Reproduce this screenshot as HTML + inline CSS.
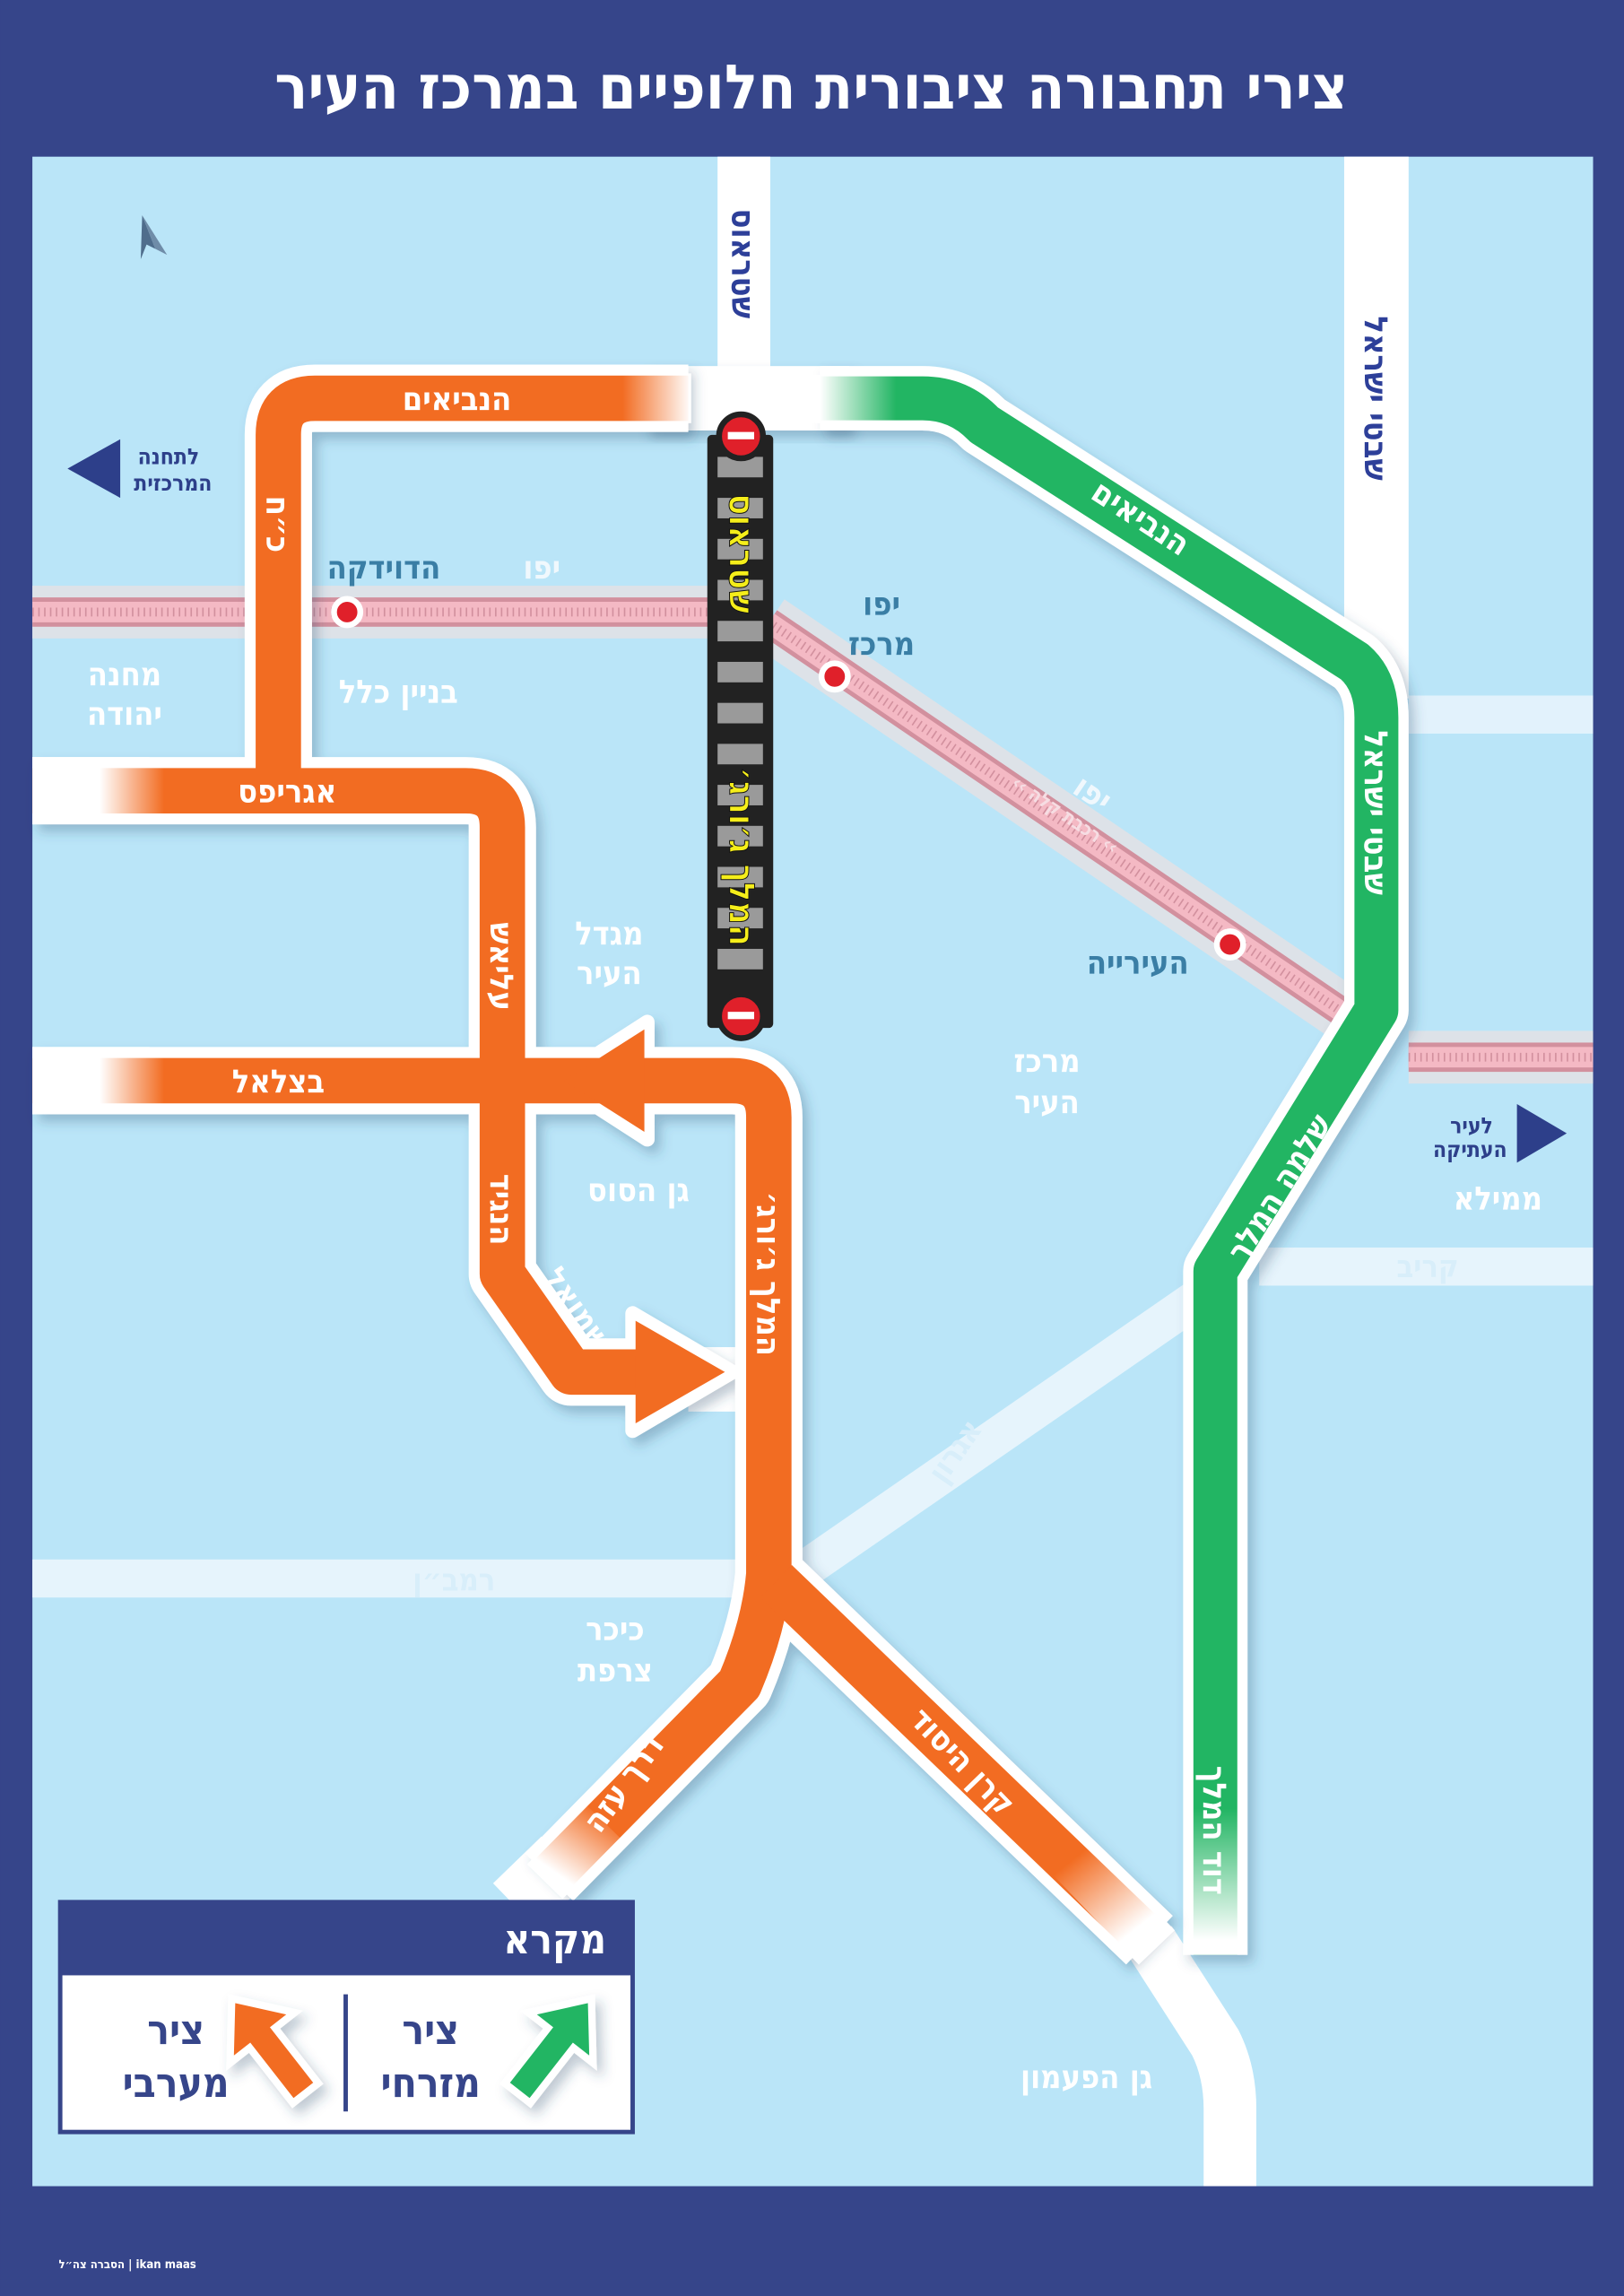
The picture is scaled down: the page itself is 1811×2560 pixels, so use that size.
<!DOCTYPE html>
<html><head><meta charset="utf-8"><style>
html,body{margin:0;padding:0;background:#36458a;}
svg{display:block}
text{font-family:"DejaVu Sans Condensed","Liberation Sans","DejaVu Sans",sans-serif;font-weight:bold;}
</style></head><body>
<svg width="1811" height="2560" viewBox="0 0 1109 1568" xmlns="http://www.w3.org/2000/svg">
<defs>
<filter id="sh" x="-10%" y="-10%" width="130%" height="130%"><feDropShadow dx="4" dy="5" stdDeviation="4" flood-color="#2a4f6e" flood-opacity="0.3"/></filter>
<linearGradient id="fTop" gradientUnits="userSpaceOnUse" x1="425" y1="0" x2="472" y2="0"><stop offset="0" stop-color="#fff" stop-opacity="0"/><stop offset="1" stop-color="#fff"/></linearGradient>
<linearGradient id="fGrTop" gradientUnits="userSpaceOnUse" x1="612" y1="0" x2="560" y2="0"><stop offset="0" stop-color="#fff" stop-opacity="0"/><stop offset="1" stop-color="#fff"/></linearGradient>
<linearGradient id="fLeft" gradientUnits="userSpaceOnUse" x1="112" y1="0" x2="68" y2="0"><stop offset="0" stop-color="#fff" stop-opacity="0"/><stop offset="1" stop-color="#fff"/></linearGradient>
<linearGradient id="fAza" gradientUnits="userSpaceOnUse" x1="408" y1="1235" x2="378" y2="1278"><stop offset="0" stop-color="#fff" stop-opacity="0"/><stop offset="1" stop-color="#fff"/></linearGradient>
<linearGradient id="fKeren" gradientUnits="userSpaceOnUse" x1="735" y1="1268" x2="775" y2="1318"><stop offset="0" stop-color="#fff" stop-opacity="0"/><stop offset="1" stop-color="#fff"/></linearGradient>
<linearGradient id="fGrBot" gradientUnits="userSpaceOnUse" x1="0" y1="1235" x2="0" y2="1325"><stop offset="0" stop-color="#fff" stop-opacity="0"/><stop offset="1" stop-color="#fff"/></linearGradient>
</defs>

<rect width="1109" height="1568" fill="#36458a"/>
<text x="554" y="74" font-size="42" fill="#fff" text-anchor="middle">צירי תחבורה ציבורית חלופיים במרכז העיר</text>
<rect x="22" y="107" width="1066" height="1386" fill="#bae5f8"/>

<!-- faint roads -->
<rect x="962" y="475" width="126" height="26" fill="#e2f2fc"/>
<rect x="860" y="852" width="228" height="26" fill="#e6f4fc"/>
<rect x="22" y="1065" width="490" height="26" fill="#e6f4fc"/>
<line x1="545" y1="1075" x2="830" y2="878" stroke="#e6f4fc" stroke-width="26"/>

<!-- rail -->
<g>
<rect x="22" y="400" width="470" height="36" fill="#dde2e8"/>
<rect x="22" y="408" width="470" height="20" fill="#d2909e"/>
<rect x="22" y="411" width="470" height="14" fill="#f4b9c4"/>
<line x1="525" y1="425" x2="925" y2="697" stroke="#dde2e8" stroke-width="38"/>
<line x1="525" y1="425" x2="925" y2="697" stroke="#d2909e" stroke-width="20"/>
<line x1="525" y1="425" x2="925" y2="697" stroke="#f4b9c4" stroke-width="14"/>
<rect x="962" y="704" width="126" height="36" fill="#dde2e8"/>
<rect x="962" y="712" width="126" height="20" fill="#d2909e"/>
<rect x="962" y="715" width="126" height="14" fill="#f4b9c4"/>
<line x1="22" y1="418" x2="490" y2="418" stroke="#d2909e" stroke-width="6" stroke-dasharray="1 3"/>
<line x1="962" y1="722" x2="1088" y2="722" stroke="#d2909e" stroke-width="6" stroke-dasharray="1 3"/>
<line x1="525" y1="425" x2="925" y2="697" stroke="#d2909e" stroke-width="6" stroke-dasharray="1 3"/>
</g>

<!-- white roads -->
<rect x="490" y="107" width="36" height="185" fill="#fff"/>
<rect x="918" y="107" width="44" height="370" fill="#fff"/>
<rect x="22" y="517" width="80" height="46" fill="#fff"/>
<rect x="22" y="715" width="80" height="46" fill="#fff"/>
<rect x="470" y="920" width="50" height="44" fill="#fff"/>
<path d="M785 1325 L830 1395 Q840 1415 840 1440 L840 1493" stroke="#fff" stroke-width="36" fill="none"/>
<line x1="385" y1="1270" x2="352" y2="1302" stroke="#fff" stroke-width="44"/>
<rect x="440" y="250" width="140" height="44" fill="#fff" filter="url(#sh)"/>

<!-- green route -->
<g filter="url(#sh)">
<path d="M560 272 L630 272 Q655 272 672 290 L925 452 Q940 465 940 490 L940 690 L830 868 L830 1335" stroke="#fff" stroke-width="44" fill="none" stroke-linejoin="round"/>
<path d="M560 272 L630 272 Q655 272 672 290 L925 452 Q940 465 940 490 L940 690 L830 868 L830 1335" stroke="#22b564" stroke-width="30" fill="none" stroke-linejoin="round"/>
</g>
<rect x="555" y="256" width="58" height="33" fill="url(#fGrTop)"/>
<rect x="814" y="1235" width="33" height="100" fill="url(#fGrBot)"/>

<!-- orange route -->
<g filter="url(#sh)">
<path d="M470 272 L215 272 Q190 272 190 297 L190 540" stroke="#fff" stroke-width="46" fill="none" stroke-linejoin="round"/>
<path d="M22 540 L318 540 Q343 540 343 565 L343 870 L390 937 L440 937" stroke="#fff" stroke-width="46" fill="none" stroke-linejoin="round"/>
<path d="M22 738 L420 738" stroke="#fff" stroke-width="46" fill="none"/>
<path d="M430 738 L500 738 Q525 738 525 763 L525 1075 Q522 1110 505 1150 L375 1282" stroke="#fff" stroke-width="46" fill="none" stroke-linejoin="round"/>
<path d="M530 1080 L785 1325" stroke="#fff" stroke-width="46" fill="none"/>
<polygon points="380,738 442,698 442,778" fill="#fff" stroke="#fff" stroke-width="10" stroke-linejoin="round"/>
<polygon points="500,937 432,897 432,977" fill="#fff" stroke="#fff" stroke-width="10" stroke-linejoin="round"/>

<path d="M470 272 L215 272 Q190 272 190 297 L190 540" stroke="#f26c22" stroke-width="31" fill="none" stroke-linejoin="round"/>
<path d="M22 540 L318 540 Q343 540 343 565 L343 870 L390 937 L440 937" stroke="#f26c22" stroke-width="31" fill="none" stroke-linejoin="round"/>
<path d="M22 738 L420 738" stroke="#f26c22" stroke-width="31" fill="none"/>
<path d="M430 738 L500 738 Q525 738 525 763 L525 1075 Q522 1110 505 1150 L375 1282" stroke="#f26c22" stroke-width="31" fill="none" stroke-linejoin="round"/>
<path d="M530 1080 L785 1325" stroke="#f26c22" stroke-width="31" fill="none"/>
<polygon points="385,738 440,703 440,773" fill="#f26c22"/>
<polygon points="495,937 434,902 434,972" fill="#f26c22"/>
</g>
<rect x="425" y="255" width="47" height="34" fill="url(#fTop)"/>
<rect x="22" y="524" width="92" height="32" fill="url(#fLeft)"/>
<rect x="22" y="722" width="92" height="32" fill="url(#fLeft)"/>
<line x1="412" y1="1244" x2="372" y2="1285" stroke="url(#fAza)" stroke-width="34"/>
<line x1="725" y1="1262" x2="790" y2="1330" stroke="url(#fKeren)" stroke-width="34"/>

<!-- black bar (closed street) -->
<rect x="483" y="297" width="45" height="405" fill="#222" rx="3"/>
<g fill="#9a9a9a">
<rect x="490" y="312" width="31" height="14"/><rect x="490" y="340" width="31" height="14"/><rect x="490" y="368" width="31" height="14"/><rect x="490" y="396" width="31" height="14"/><rect x="490" y="424" width="31" height="14"/><rect x="490" y="452" width="31" height="14"/><rect x="490" y="480" width="31" height="14"/><rect x="490" y="508" width="31" height="14"/><rect x="490" y="536" width="31" height="14"/><rect x="490" y="564" width="31" height="14"/><rect x="490" y="592" width="31" height="14"/><rect x="490" y="620" width="31" height="14"/><rect x="490" y="648" width="31" height="14"/>
</g>
<g stroke="#222" stroke-width="4">
<circle cx="506" cy="298" r="15" fill="#e0202a"/><circle cx="506" cy="694" r="15" fill="#e0202a"/>
</g>
<rect x="497" y="295" width="18" height="5" fill="#fff"/><rect x="497" y="691" width="18" height="5" fill="#fff"/>
<g font-size="24" fill="#f5ee1a" stroke="#111" stroke-width="0.6" text-anchor="middle">
<text transform="translate(498,378) rotate(90)">שטראוס</text>
<text transform="translate(498,585) rotate(90)">המלך ג׳ורג׳</text>
</g>

<!-- stations -->
<g stroke="#fff" stroke-width="4" fill="#e0202a">
<circle cx="237" cy="418" r="9"/><circle cx="570" cy="462" r="9"/><circle cx="840" cy="645" r="9"/>
</g>

<!-- navy road labels -->
<g font-size="22" fill="#2d3f99" text-anchor="middle">
<text transform="translate(500,180) rotate(90)">שטראוס</text>
<text transform="translate(932,272) rotate(90)">שבטי ישראל</text>
</g>

<!-- route labels -->
<g font-size="22" fill="#fff" text-anchor="middle">
<text x="312" y="280">הנביאים</text>
<text transform="translate(182,358) rotate(90)">כ״ח</text>
<text x="196" y="548">אגריפס</text>
<text transform="translate(335,660) rotate(90)">עליאש</text>
<text x="190" y="746">בצלאל</text>
<text transform="translate(335,826) rotate(90)">הנגיד</text>
<text transform="translate(388,898) rotate(55)">שמואל</text>
<text transform="translate(517,870) rotate(90)">המלך ג׳ורג׳</text>
<text transform="translate(432,1222) rotate(-54)">דרך עזה</text>
<text transform="translate(652,1208) rotate(46)">קרן היסוד</text>
<text transform="translate(775,360) rotate(33)">הנביאים</text>
<text transform="translate(932,555) rotate(90)">שבטי ישראל</text>
<text transform="translate(880,815) rotate(-58)">שלמה המלך</text>
<text transform="translate(822,1250) rotate(90)">דוד המלך</text>
</g>

<!-- place labels -->
<g font-size="22" fill="#3a7ea5" text-anchor="middle">
<text x="262" y="395">הדוידקה</text>
<text x="602" y="420">יפו</text>
<text x="602" y="447">מרכז</text>
<text x="777" y="665">העירייה</text>
</g>
<g font-size="22" fill="#fff" text-anchor="middle">
<text x="85" y="468">מחנה</text>
<text x="85" y="495">יהודה</text>
<text x="272" y="480">בניין כלל</text>
<text x="416" y="645">מגדל</text>
<text x="416" y="672">העיר</text>
<text x="715" y="732">מרכז</text>
<text x="715" y="760">העיר</text>
<text x="436" y="820">גן הסוס</text>
<text x="1023" y="826">ממילא</text>
<text x="420" y="1120">כיכר</text>
<text x="420" y="1148">צרפת</text>
<text x="742" y="1426">גן הפעמון</text>
</g>
<g font-size="22" fill="#f0f8fd" text-anchor="middle">
<text x="370" y="395">יפו</text>
<text transform="translate(742,548) rotate(34)">יפו</text>
</g>
<g font-size="21" fill="#d8eefa" text-anchor="middle">
<text x="975" y="872">קריב</text>
<text x="310" y="1086">רמב״ן</text>
<text transform="translate(658,995) rotate(-55)">אגרון</text>
</g>
<text transform="translate(725,560) rotate(34)" font-size="13" fill="#f6dde3" text-anchor="middle">‹‹ רכבת קלה ‹‹</text>

<!-- direction arrows -->
<polygon points="46,320 82,300 82,340" fill="#2d3f8a"/>
<g font-size="15" fill="#2d3f8a" text-anchor="middle">
<text x="115" y="317">לתחנה</text>
<text x="118" y="335">המרכזית</text>
<text x="1005" y="774">לעיר</text>
<text x="1004" y="790">העתיקה</text>
</g>
<polygon points="1070,774 1036,754 1036,794" fill="#2d3f8a"/>
<!-- north arrow -->
<polygon points="97,147 106,170 100,167 96,177" fill="#4f6d8c"/>
<polygon points="97,147 106,170 114,174" fill="#6f8ca8"/>

<!-- legend -->
<rect x="41" y="1299" width="391" height="157" fill="#fff" stroke="#36458a" stroke-width="3"/>
<rect x="41" y="1299" width="391" height="50" fill="#36458a"/>
<text x="414" y="1334" font-size="28" fill="#fff" text-anchor="end">מקרא</text>
<line x1="236" y1="1362" x2="236" y2="1442" stroke="#36458a" stroke-width="3"/>
<g font-size="28" fill="#36458a" text-anchor="middle">
<text x="294" y="1396">ציר</text>
<text x="294" y="1432">מזרחי</text>
<text x="120" y="1396">ציר</text>
<text x="120" y="1432">מערבי</text>
</g>
<g filter="url(#sh)">
<polygon transform="translate(378,1398) rotate(38)" points="0,-42 28,-8 11,-8 11,40 -11,40 -11,-8 -28,-8" fill="#22b564" stroke="#fff" stroke-width="5"/>
<polygon transform="translate(184,1398) rotate(-38)" points="0,-42 28,-8 11,-8 11,40 -11,40 -11,-8 -28,-8" fill="#f26c22" stroke="#fff" stroke-width="5"/>
</g>

<text x="40" y="1549" font-size="8" fill="#fff" font-family="Liberation Sans,sans-serif">הסברה צה״ל | ikan maas</text>
</svg>
</body></html>
